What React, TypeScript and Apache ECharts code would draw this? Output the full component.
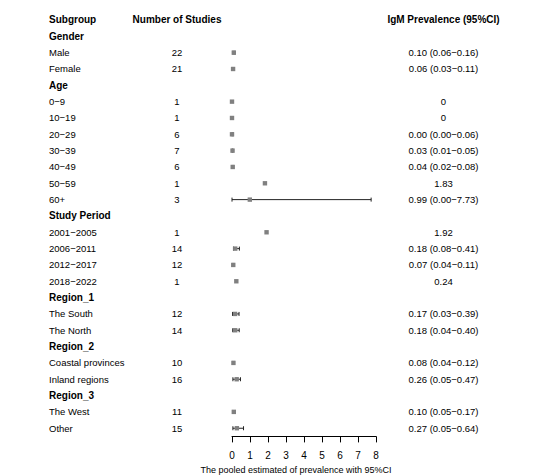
import React, { useEffect, useRef } from "react";
import * as echarts from "echarts";

const subgroups = [
  "Gender", "Male", "Female",
  "Age", "0−9", "10−19", "20−29", "30−39", "40−49", "50−59", "60+",
  "Study Period", "2001−2005", "2006−2011", "2012−2017", "2018−2022",
  "Region_1", "The South", "The North",
  "Region_2", "Coastal provinces", "Inland regions",
  "Region_3", "The West", "Other",
];
const isHeader = [
  true, false, false,
  true, false, false, false, false, false, false, false,
  true, false, false, false, false,
  true, false, false,
  true, false, false,
  true, false, false,
];
const studies = [
  "", "22", "21",
  "", "1", "1", "6", "7", "6", "1", "3",
  "", "1", "14", "12", "1",
  "", "12", "14",
  "", "10", "16",
  "", "11", "15",
];
const estimates: (number | null)[] = [
  null, 0.10, 0.06,
  null, 0, 0, 0.00, 0.03, 0.04, 1.83, 0.99,
  null, 1.92, 0.18, 0.07, 0.24,
  null, 0.17, 0.18,
  null, 0.08, 0.26,
  null, 0.10, 0.27,
];
const lower: (number | null)[] = [
  null, 0.06, 0.03,
  null, null, null, 0.00, 0.01, 0.02, null, 0.00,
  null, null, 0.08, 0.04, null,
  null, 0.03, 0.04,
  null, 0.04, 0.05,
  null, 0.05, 0.05,
];
const upper: (number | null)[] = [
  null, 0.16, 0.11,
  null, null, null, 0.06, 0.05, 0.08, null, 7.73,
  null, null, 0.41, 0.11, null,
  null, 0.39, 0.40,
  null, 0.12, 0.47,
  null, 0.17, 0.64,
];
const prevalenceText = [
  "", "0.10 (0.06−0.16)", "0.06 (0.03−0.11)",
  "", "0", "0", "0.00 (0.00−0.06)", "0.03 (0.01−0.05)", "0.04 (0.02−0.08)", "1.83", "0.99 (0.00−7.73)",
  "", "1.92", "0.18 (0.08−0.41)", "0.07 (0.04−0.11)", "0.24",
  "", "0.17 (0.03−0.39)", "0.18 (0.04−0.40)",
  "", "0.08 (0.04−0.12)", "0.26 (0.05−0.47)",
  "", "0.10 (0.05−0.17)", "0.27 (0.05−0.64)",
];
const xTicks = [0, 1, 2, 3, 4, 5, 6, 7, 8];

const FONT = "'Liberation Sans', Arial, Helvetica, sans-serif";
const COL_SUB = 49;
const COL_N = 177;
const COL_P = 443.5;

export default function App() {
  const ref = useRef<HTMLDivElement>(null);
  useEffect(() => {
    if (!ref.current) return;
    const chart = echarts.init(ref.current, undefined, { renderer: "svg" });

    // row index: 0 = column header, rows 1..25 = subgroups
    const textData = [[0, 0]].concat(subgroups.map((_, i) => [0, i + 1]));
    const markData: number[][] = [];
    estimates.forEach((e, i) => {
      if (e !== null) {
        markData.push([e, i + 1, lower[i] ?? NaN, upper[i] ?? NaN]);
      }
    });

    const mkText = (x: number, y: number, text: string, align: string, bold: boolean) => ({
      type: "text",
      x,
      y,
      style: {
        text,
        fill: "#000",
        align,
        verticalAlign: "middle",
        fontFamily: FONT,
        fontSize: bold ? 10 : 9.5,
        fontWeight: bold ? "bold" : "normal",
      },
    });

    const option = {
      animation: false,
      backgroundColor: "#fff",
      grid: {
        left: 232,
        right: 158,
        top: 3.67,
        bottom: 38.6,
        containLabel: false,
        outerBoundsMode: "none",
      },
      xAxis: {
        type: "value",
        min: 0,
        max: 8,
        interval: 1,
        position: "bottom",
        splitLine: { show: false },
        axisLine: { show: true, onZero: false, lineStyle: { color: "#000", width: 1 } },
        axisTick: { show: true, length: 6, lineStyle: { color: "#000", width: 1 } },
        axisLabel: {
          color: "#000",
          fontFamily: FONT,
          fontSize: 10,
          margin: 14,
          formatter: (v: number) => (xTicks.includes(v) ? String(v) : ""),
        },
        name: "The pooled estimated of prevalence with 95%CI",
        nameLocation: "middle",
        nameGap: 25.5,
        nameTextStyle: { color: "#000", fontFamily: FONT, fontSize: 9, padding: [0, 16, 0, 0] },
      },
      yAxis: {
        type: "value",
        inverse: true,
        min: -1,
        max: 25.5,
        show: false,
      },
      series: [
        {
          type: "custom",
          clip: false,
          data: textData,
          renderItem: (params: any, api: any) => {
            const row = api.value(1);
            const y = api.coord([0, row])[1];
            if (row === 0) {
              return {
                type: "group",
                children: [
                  mkText(COL_SUB, y, "Subgroup", "left", true),
                  mkText(COL_N, y, "Number of Studies", "center", true),
                  mkText(COL_P, y, "IgM Prevalence (95%CI)", "center", true),
                ],
              };
            }
            const i = row - 1;
            const children: any[] = [mkText(COL_SUB, y, subgroups[i], "left", isHeader[i])];
            if (studies[i]) children.push(mkText(COL_N, y, studies[i], "center", false));
            if (prevalenceText[i]) children.push(mkText(COL_P, y, prevalenceText[i], "center", false));
            return { type: "group", children };
          },
        },
        {
          type: "custom",
          clip: false,
          data: markData,
          renderItem: (params: any, api: any) => {
            const est = api.value(0);
            const row = api.value(1);
            const lo = api.value(2);
            const hi = api.value(3);
            const c = api.coord([est, row]);
            const children: any[] = [];
            if (!isNaN(lo) && !isNaN(hi)) {
              const p1 = api.coord([lo, row]);
              const p2 = api.coord([hi, row]);
              const lineStyle = { stroke: "#222", lineWidth: 1 };
              children.push({ type: "line", shape: { x1: p1[0], y1: c[1], x2: p2[0], y2: c[1] }, style: lineStyle });
              children.push({ type: "line", shape: { x1: p1[0], y1: c[1] - 2, x2: p1[0], y2: c[1] + 2 }, style: lineStyle });
              children.push({ type: "line", shape: { x1: p2[0], y1: c[1] - 2, x2: p2[0], y2: c[1] + 2 }, style: lineStyle });
            }
            children.push({
              type: "rect",
              shape: { x: c[0] - 2.2, y: c[1] - 2.2, width: 4.4, height: 4.4 },
              style: { fill: "#808080" },
            });
            return { type: "group", children };
          },
        },
      ],
    };
    chart.setOption(option as any);
    return () => chart.dispose();
  }, []);
  return (
    <div
      ref={ref}
      style={{ position: "fixed", left: 0, top: 0, width: 534, height: 475, background: "#fff" }}
    />
  );
}
